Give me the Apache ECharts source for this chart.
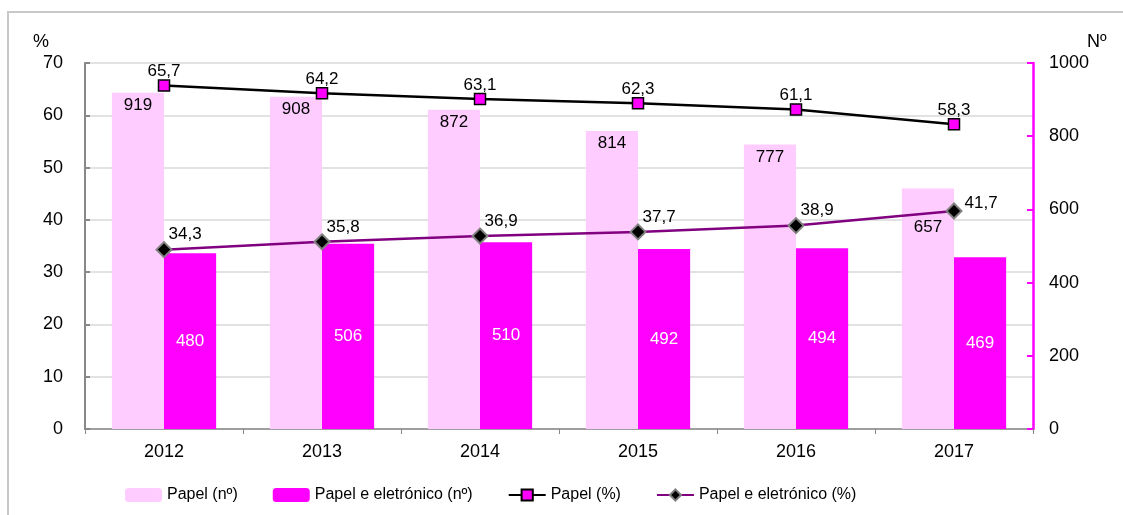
<!DOCTYPE html>
<html>
<head>
<meta charset="utf-8">
<script src="https://cdn.jsdelivr.net/npm/echarts@6/dist/echarts.min.js"></script>
<style>
html,body{margin:0;padding:0;background:#fff;}
#chart{width:1123px;height:515px;}
</style>
</head>
<body>
<div id="chart"></div>
<script>
const years = ['2012', '2013', '2014', '2015', '2016', '2017'];
const papelN = [919, 908, 872, 814, 777, 657];
const eletronN = [480, 506, 510, 492, 494, 469];
const papelPct = [65.7, 64.2, 63.1, 62.3, 61.1, 58.3];
const eletronPct = [34.3, 35.8, 36.9, 37.7, 38.9, 41.7];
const leftTicks = { min: 0, max: 70, interval: 10 };
const rightTicks = { min: 0, max: 1000, interval: 200 };

const FONT = '"Liberation Sans", Arial, sans-serif';
const comma = v => String(v).replace('.', ',');

const chart = echarts.init(document.getElementById('chart'), null, { renderer: 'canvas' });

const option = {
  backgroundColor: '#fff',
  animation: false,
  textStyle: { fontFamily: FONT },
  graphic: [{
    type: 'rect',
    shape: { x: 8, y: 12, width: 1300, height: 700 },
    style: { fill: 'none', stroke: '#c8c8c8', lineWidth: 2 },
    silent: true, z: -10
  }],
  grid: { left: 85, right: 90, top: 63, bottom: 86 },
  legend: {
    bottom: 7,
    left: 120,
    itemWidth: 37,
    itemHeight: 14,
    itemGap: 35,
    textStyle: { fontFamily: FONT, fontSize: 16, color: '#000' },
    data: ['Papel (nº)', 'Papel e eletrónico (nº)', 'Papel (%)', 'Papel e eletrónico (%)']
  },
  xAxis: {
    type: 'category',
    data: years,
    boundaryGap: true,
    axisLine: { lineStyle: { color: '#888', width: 1.5 } },
    axisTick: { show: true, alignWithLabel: false, length: 5, lineStyle: { color: '#888' } },
    axisLabel: { color: '#000', fontSize: 18, margin: 14, fontFamily: FONT }
  },
  yAxis: [{
    type: 'value',
    position: 'left',
    min: leftTicks.min, max: leftTicks.max, interval: leftTicks.interval,
    name: '%',
    nameLocation: 'end',
    nameGap: 12,
    nameTextStyle: { color: '#000', fontSize: 18, align: 'right', padding: [0, 36, 0, 0], fontFamily: FONT },
    axisLine: { show: true, lineStyle: { color: '#888', width: 2 } },
    axisTick: { show: true, inside: true, length: 5, lineStyle: { color: '#888', width: 2 } },
    axisLabel: { color: '#000', fontSize: 18, margin: 22, fontFamily: FONT },
    splitLine: { show: true, lineStyle: { color: '#d9d9d9', width: 1.5 } }
  }, {
    type: 'value',
    position: 'right',
    min: rightTicks.min, max: rightTicks.max, interval: rightTicks.interval,
    name: 'Nº',
    nameLocation: 'end',
    nameGap: 12,
    nameTextStyle: { color: '#000', fontSize: 18, align: 'left', padding: [0, 0, 0, 54], fontFamily: FONT },
    axisLine: { show: true, lineStyle: { color: '#FF00FF', width: 2.5 } },
    axisTick: { show: true, inside: true, length: 6, lineStyle: { color: '#FF00FF', width: 2 } },
    axisLabel: { color: '#000', fontSize: 18, margin: 16, fontFamily: FONT, formatter: v => String(v) },
    splitLine: { show: false }
  }],
  series: [{
    name: 'Papel (nº)',
    type: 'bar',
    yAxisIndex: 1,
    barGap: '0%',
    barCategoryGap: '34%',
    itemStyle: { color: '#FFCCFF' },
    label: { show: true, position: 'insideTop', distance: 4, color: '#000', fontSize: 17, fontFamily: FONT },
    data: papelN.map((v, i) => i === 5 ? { value: v, label: { offset: [0, 26] } } : v)
  }, {
    name: 'Papel e eletrónico (nº)',
    type: 'bar',
    yAxisIndex: 1,
    barGap: '0%',
    barCategoryGap: '34%',
    itemStyle: { color: '#FF00FF' },
    label: { show: true, position: 'inside', color: '#fff', fontSize: 17, fontFamily: FONT },
    data: eletronN
  }, {
    name: 'Papel (%)',
    type: 'line',
    yAxisIndex: 0,
    symbol: 'rect',
    symbolSize: 11,
    z: 5,
    lineStyle: { color: '#000', width: 2.5 },
    itemStyle: { color: '#FF00FF', borderColor: '#000', borderWidth: 1.5 },
    label: { show: true, position: 'top', distance: -1, color: '#000', fontSize: 17, fontFamily: FONT, formatter: p => comma(p.value) },
    data: papelPct
  }, {
    name: 'Papel e eletrónico (%)',
    type: 'line',
    yAxisIndex: 0,
    symbol: 'diamond',
    symbolSize: 15,
    z: 6,
    lineStyle: { color: '#800080', width: 2.5 },
    itemStyle: { color: '#000', borderColor: '#808080', borderWidth: 2 },
    label: { show: true, position: 'right', distance: 2, offset: [-6, -15], color: '#000', fontSize: 17, fontFamily: FONT, formatter: p => comma(p.value) },
    data: eletronPct.map((v, i) => i === 5 ? { value: v, label: { offset: [0, -8] } } : v)
  }]
};
chart.setOption(option);
</script>
</body>
</html>
